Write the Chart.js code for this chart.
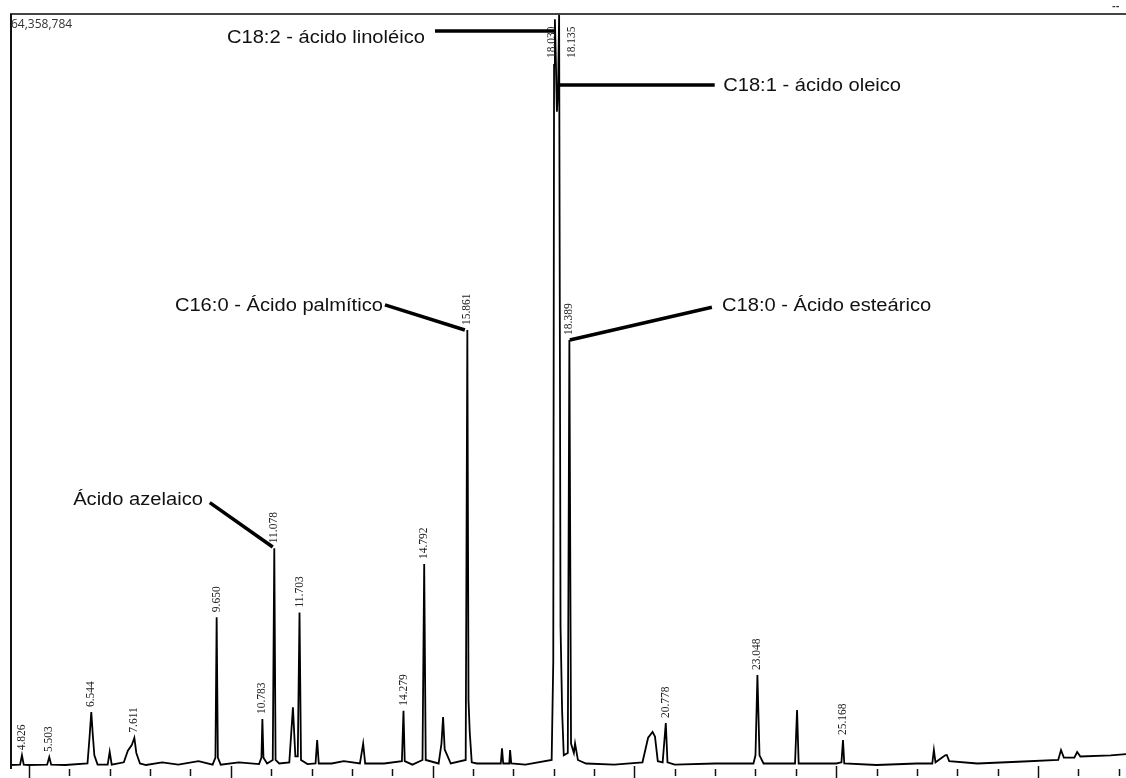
<!DOCTYPE html>
<html>
<head>
<meta charset="utf-8">
<script src="https://cdn.jsdelivr.net/npm/chart.js@4/dist/chart.umd.min.js"></script>
<style>
  html, body { margin: 0; padding: 0; background: #fff; }
  #wrap { width: 1126px; height: 778px; }
</style>
</head>
<body>
<div id="wrap"><canvas id="myChart"></canvas></div>
<script>
// retention time (min) and intensity (millions of counts)
const retTimes = [4.53, 4.78, 4.826, 4.87, 5.0, 5.45, 5.503, 5.55, 5.9, 6.45, 6.50, 6.544, 6.58, 6.62, 6.70,
  6.95, 7.0, 7.05, 7.35, 7.45, 7.55, 7.611, 7.66, 7.75, 7.9, 8.3, 8.7, 9.2, 9.55, 9.62, 9.650, 9.68, 9.75,
  10.2, 10.7, 10.76, 10.783, 10.81, 10.9, 11.04, 11.078, 11.11, 11.2, 11.45, 11.54, 11.6, 11.66, 11.703, 11.74,
  11.9, 12.1, 12.14, 12.18, 12.5, 12.8, 13.2, 13.28, 13.33, 13.8, 14.24, 14.279, 14.31, 14.5, 14.75, 14.792,
  14.83, 15.15, 15.22, 15.26, 15.3, 15.45, 15.82, 15.861, 15.89, 15.92, 15.97, 16.1, 16.69, 16.72, 16.75,
  16.9, 16.92, 16.95, 17.3, 17.95, 17.99, 18.01, 18.03, 18.05, 18.08, 18.11, 18.135, 18.17, 18.21, 18.25,
  18.35, 18.389, 18.43,
  18.5, 18.53, 18.6, 18.8, 19.5, 20.2, 20.34, 20.45, 20.51, 20.58, 20.7, 20.778, 20.82, 21.0, 22.0, 22.95,
  23.0, 23.048, 23.1, 23.2, 23.98, 24.03, 24.07, 25.0, 25.13, 25.168, 25.2, 26.0, 27.0, 27.38, 27.42, 27.46,
  27.7, 27.74, 27.8, 28.5, 29.5, 30.5, 30.57, 30.64, 30.9, 30.97, 31.05, 31.8, 32.18];
const intensity = [0.17, 0.2, 1.0, 0.2, 0.17, 0.2, 0.85, 0.2, 0.17, 0.3, 2.5, 4.7, 2.8, 1.0, 0.2,
  0.2, 1.3, 0.2, 0.4, 1.4, 1.9, 2.5, 1.2, 0.3, 0.17, 0.4, 0.2, 0.5, 0.2, 0.8, 12.8, 0.8, 0.2,
  0.4, 0.25, 0.8, 4.1, 0.8, 0.3, 0.6, 18.7, 0.6, 0.3, 0.4, 5.1, 0.9, 0.9, 13.2, 0.6,
  0.25, 0.3, 2.3, 0.3, 0.3, 0.5, 0.3, 2.0, 0.3, 0.3, 0.5, 4.8, 0.5, 0.2, 0.6, 17.35,
  0.6, 0.3, 2.0, 4.27, 1.5, 0.3, 0.6, 37.35, 5.7, 3.0, 0.4, 0.3, 0.3, 1.6, 0.3,
  0.3, 1.45, 0.3, 0.2, 0.6, 9.0, 60.0, 63.9, 61.0, 56.0, 58.0, 64.36, 12.0, 4.7, 1.0,
  1.2, 36.5, 2.0,
  1.2, 2.0, 0.6, 0.3, 0.2, 0.4, 2.5, 3.0, 2.6, 0.5, 0.4, 3.76, 0.4, 0.2, 0.3, 0.3,
  1.0, 7.86, 1.0, 0.3, 0.3, 4.87, 0.3, 0.3, 0.4, 2.3, 0.3, 0.17, 0.3, 0.3, 1.45, 0.4,
  1.0, 1.03, 0.5, 0.3, 0.45, 0.6, 1.45, 0.8, 0.8, 1.28, 0.9, 1.0, 1.1];

// labelled peaks
const peakLabels = ["4.826", "5.503", "6.544", "7.611", "9.650", "10.783", "11.078", "11.703", "14.279",
  "14.792", "15.861", "18.030", "18.135", "18.389", "20.778", "23.048", "25.168"];
const peakTimes = [4.826, 5.503, 6.544, 7.611, 9.650, 10.783, 11.078, 11.703, 14.279,
  14.792, 15.861, 18.03, 18.135, 18.389, 20.778, 23.048, 25.168];

// compound annotations: text, text anchor (rt, intensity), leader line (rt, intensity) -> (rt, intensity)
const annTexts = ["C18:2 - ácido linoléico", "C18:1 - ácido oleico", "C16:0 - Ácido palmítico",
  "C18:0 - Ácido esteárico", "Ácido azelaico"];
const annTextAt = [[14.81, 62.3, "right"], [22.2, 58.2, "left"], [13.77, 39.4, "right"],
  [22.17, 39.4, "left"], [9.31, 22.8, "right"]];
const annLineFrom = [[15.06, 62.9], [18.11, 58.3], [13.82, 39.5], [18.40, 36.5], [9.48, 22.6]];
const annLineTo = [[18.03, 62.9], [21.99, 58.3], [15.80, 37.35], [21.92, 39.3], [11.04, 18.8]];

const yMaxLabel = "64,358,784";
const tickMinutes = [5, 6, 7, 8, 9, 10, 11, 12, 13, 14, 15, 16, 17, 18, 19, 20, 21, 22, 23, 24, 25,
  26, 27, 28, 29, 30, 31, 32];

const tracePoints = retTimes.map((t, i) => ({ x: t, y: intensity[i] }));

// draws frame, ticks, peak labels and the compound notes
const chromPlugin = {
  id: "chromExtras",
  afterDatasetsDraw(chart) {
    const ctx = chart.ctx;
    const xs = chart.scales.x;
    const ys = chart.scales.y;
    const area = chart.chartArea;

    ctx.save();
    // frame: left and top only
    ctx.strokeStyle = "#444";
    ctx.lineWidth = 2;
    ctx.beginPath();
    ctx.moveTo(area.left, area.top);
    ctx.lineTo(area.right, area.top);
    ctx.stroke();
    ctx.strokeStyle = "#111";
    ctx.beginPath();
    ctx.moveTo(area.left + 1, area.top);
    ctx.lineTo(area.left + 1, area.bottom + 2);
    ctx.stroke();

    // time ticks under the baseline
    ctx.strokeStyle = "#111";
    ctx.lineWidth = 1.5;
    tickMinutes.forEach(m => {
      const px = Math.round(xs.getPixelForValue(m)) + 0.5;
      const major = m % 5 === 0;
      ctx.beginPath();
      ctx.moveTo(px, area.bottom + (major ? -1 : 2));
      ctx.lineTo(px, area.bottom + (major ? 11 : 9));
      ctx.stroke();
    });

    // max intensity label
    ctx.fillStyle = "#333";
    ctx.font = "12px 'Open Sans', sans-serif";
    ctx.textBaseline = "middle";
    ctx.textAlign = "left";
    ctx.fillText(yMaxLabel, area.left + 1, area.top + 11);
    ctx.font = "bold 9px 'DejaVu Sans', sans-serif";
    ctx.fillText("--", area.right - 14, area.top - 7);

    // rotated retention time labels over the peaks
    ctx.font = "11.5px 'Liberation Serif', serif";
    ctx.fillStyle = "#222";
    peakTimes.forEach((t, i) => {
      const idx = retTimes.indexOf(t);
      const h = idx >= 0 ? intensity[idx] : 0;
      let px = xs.getPixelForValue(t);
      let py = ys.getPixelForValue(h) - 3;
      if (py < area.top + 40) {
        // clipped peaks: labels sit at the top, side by side
        py = area.top + 46;
        px += (peakLabels[i] === "18.135") ? 13 : -3;
      }
      ctx.save();
      ctx.translate(px, py);
      ctx.rotate(-Math.PI / 2);
      ctx.textAlign = "left";
      ctx.textBaseline = "middle";
      ctx.fillText(peakLabels[i], 2, 0);
      ctx.restore();
    });

    // compound notes with leader lines
    ctx.strokeStyle = "#000";
    ctx.lineWidth = 3.5;
    ctx.lineCap = "butt";
    annTexts.forEach((txt, i) => {
      ctx.beginPath();
      ctx.moveTo(xs.getPixelForValue(annLineFrom[i][0]), ys.getPixelForValue(annLineFrom[i][1]));
      ctx.lineTo(xs.getPixelForValue(annLineTo[i][0]), ys.getPixelForValue(annLineTo[i][1]));
      ctx.stroke();
      // the source text is a little stretched sideways
      const tx = xs.getPixelForValue(annTextAt[i][0]);
      const ty = ys.getPixelForValue(annTextAt[i][1]);
      ctx.save();
      ctx.translate(tx, ty);
      ctx.scale(1.15, 1);
      ctx.font = "17.5px 'Liberation Sans', Arial, sans-serif";
      ctx.fillStyle = "#111";
      ctx.textAlign = annTextAt[i][2];
      ctx.textBaseline = "middle";
      ctx.fillText(txt, 0, 0);
      ctx.restore();
    });
    ctx.restore();
  }
};

new Chart("myChart", {
  type: "line",
  data: {
    datasets: [{
      data: tracePoints,
      borderColor: "#000",
      borderWidth: 1.8,
      pointRadius: 0,
      tension: 0,
      fill: false
    }]
  },
  options: {
    responsive: true,
    maintainAspectRatio: false,
    animation: false,
    layout: { padding: { left: 10, top: 14, right: 0, bottom: 11 } },
    plugins: { legend: { display: false }, tooltip: { enabled: false } },
    scales: {
      x: { type: "linear", min: 4.53, max: 32.18, display: false },
      y: { min: 0, max: 64.358784, display: false }
    }
  },
  plugins: [chromPlugin]
});
</script>
</body>
</html>
